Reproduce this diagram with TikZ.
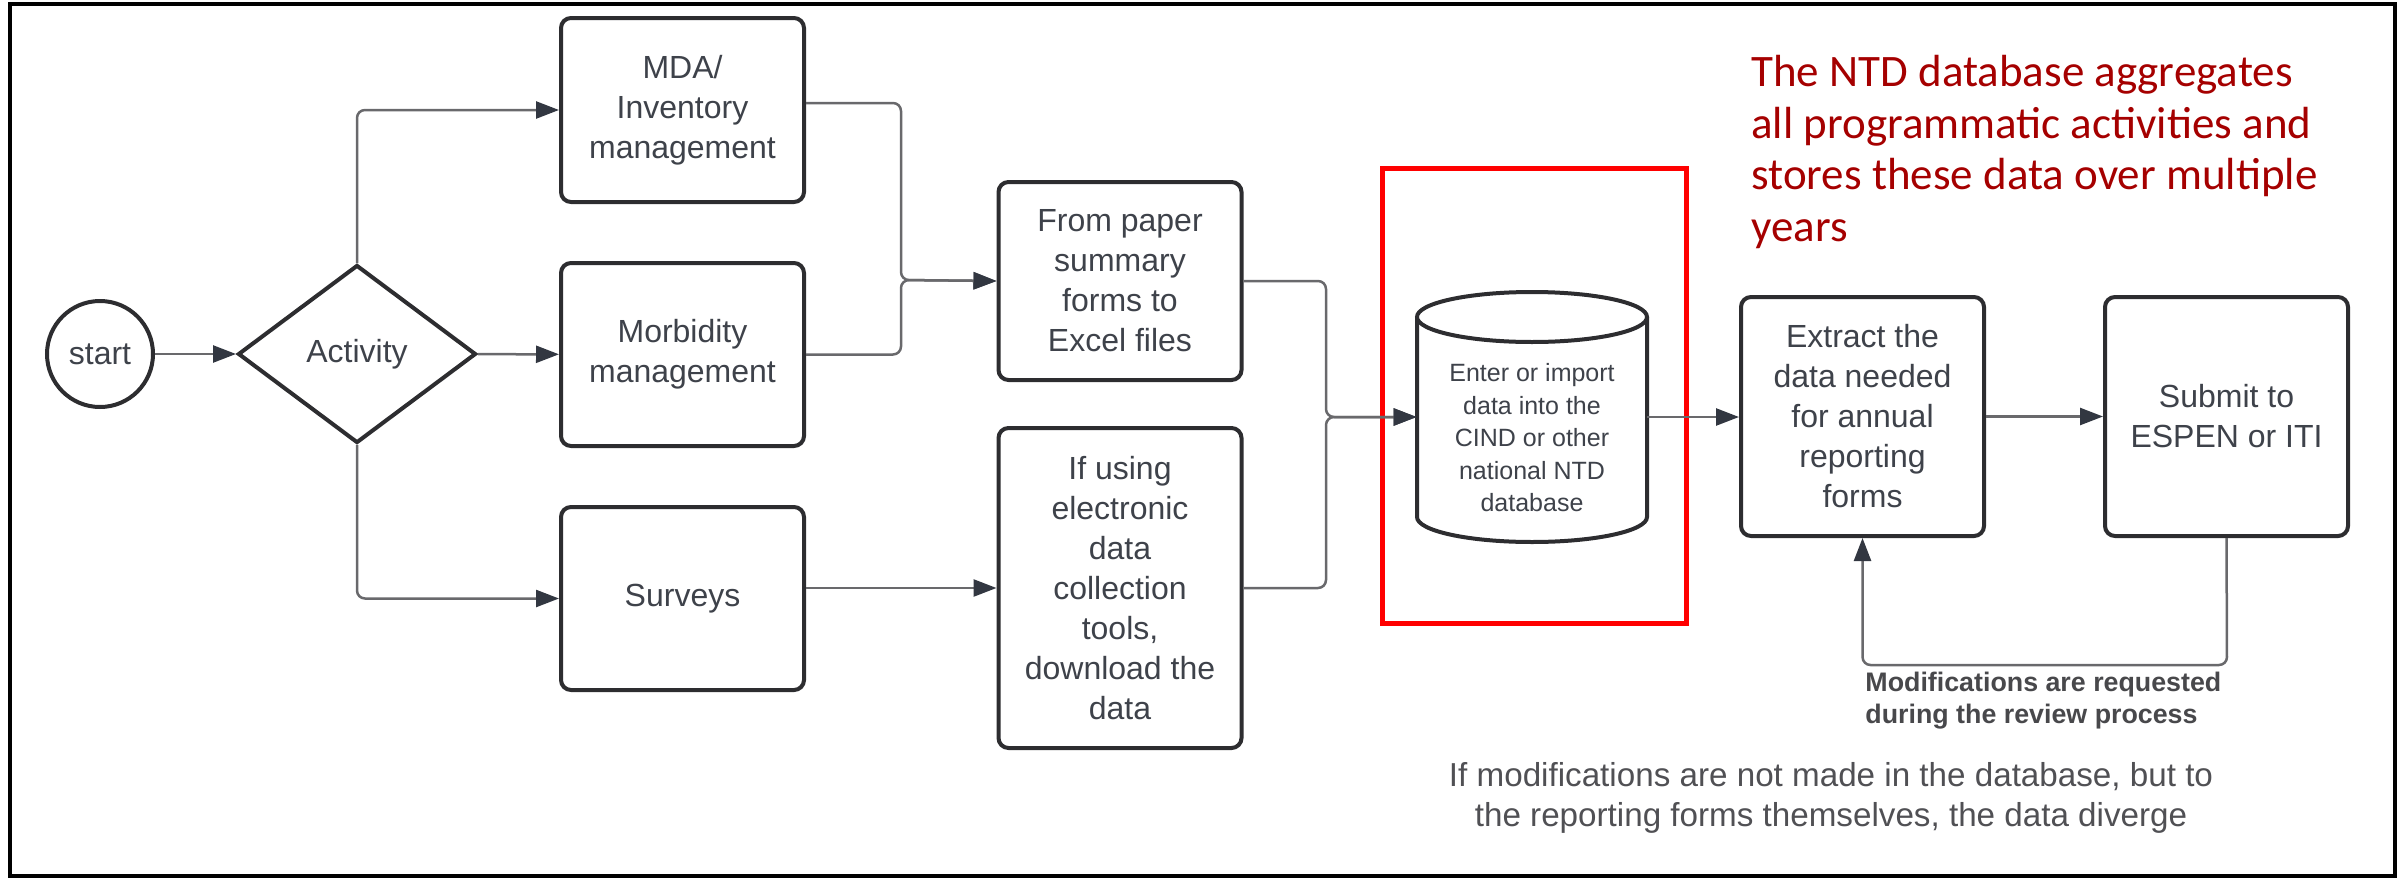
\documentclass[tikz,border=0pt]{standalone}
\usepackage{fontspec}
\setmainfont{Liberation Sans}
\newfontfamily\notefont{Carlito}
\usetikzlibrary{arrows.meta,shapes.geometric}

\definecolor{boxline}{RGB}{45,45,48}
\definecolor{textgray}{RGB}{62,66,74}
\definecolor{connline}{RGB}{105,105,108}
\definecolor{tipdark}{RGB}{50,55,65}
\definecolor{hired}{RGB}{255,0,0}
\definecolor{notered}{RGB}{165,0,0}
\definecolor{notegray}{RGB}{80,80,84}

\begin{document}
\begin{tikzpicture}[x=0.5pt,y=-0.5pt,
  basefont/.style={font=\fontsize{16}{20}\selectfont, text=textgray, align=center},
  stepbox/.style={basefont, rectangle, rounded corners=5pt, draw=boxline, line width=2pt,
    fill=white, minimum width=121.5pt, inner sep=0pt},
  startnode/.style={basefont, circle, draw=boxline, line width=2pt, minimum size=53pt, inner sep=0pt},
  decision/.style={basefont, diamond, draw=boxline, line width=2pt, minimum width=119pt,
    minimum height=89pt, inner sep=0pt},
  conn/.style={draw=connline, line width=1.25pt, rounded corners=4pt,
    -{Triangle[length=11.5pt,width=8.5pt,color=tipdark]}},
]
\useasboundingbox (0,0) rectangle (2397,878);

% outer frame
\draw[line width=2pt, black] (10,4) rectangle (2395,876);

% nodes
\node[startnode] (start) at (100,354) {start};
\node[decision] (act) at (357,354) {Activity};
\node[stepbox, minimum height=92pt] (mda) at (682.5,110) {MDA/\\Inventory\\management};
\node[stepbox, minimum height=91.5pt] (morb) at (682.5,354.5) {Morbidity\\management};
\node[stepbox, minimum height=91.5pt] (surv) at (682.5,598.5) {Surveys};
\node[stepbox, minimum height=99pt] (paper) at (1120,281) {From paper\\summary\\forms to\\Excel files};
\node[stepbox, minimum height=160pt] (elec) at (1120,588) {If using\\electronic\\data\\collection\\tools,\\download the\\data};
\node[stepbox, minimum height=119.5pt] (extract) at (1862.5,416.5) {Extract the\\data needed\\for annual\\reporting\\forms};
\node[stepbox, minimum height=119.5pt] (submit) at (2226.5,416.5) {Submit to\\ESPEN or ITI};

% database cylinder
\draw[boxline, line width=2pt, fill=white]
  (1417,317) -- (1417,517) arc[start angle=180, end angle=360, x radius=57.5pt, y radius=12.5pt]
  -- (1647,317);
\draw[boxline, line width=2pt, fill=white] (1532,317) ellipse [x radius=57.5pt, y radius=12.5pt];
\node[rectangle, minimum width=115pt, minimum height=125pt, inner sep=0pt] (db) at (1532,417) {};
\node[inner sep=0pt, font=\fontsize{12.5}{16.25}\selectfont, text=textgray, align=center]
  (dbtext) at (1532,438) {Enter or import\\data into the\\CIND or other\\national NTD\\database};

% highlight around the database
\draw[hired, line width=2.5pt] (1382,168) rectangle (1686,623);

% connectors
\coordinate (j1) at (901,280);
\coordinate (j2) at (1326,417);
\coordinate (fb) at (2227,665);

\draw[conn] (start) -- (act);
\draw[conn] (act.north) |- (mda.west);
\draw[conn] (act) -- (morb);
\draw[conn] (act.south) |- (surv.west);
\draw[conn] ([yshift=3.5pt]mda.east) -| (j1) -- (paper.west);
\draw[conn] (morb.east) -| (j1) -- (paper.west);
\draw[conn] (surv.east |- elec.west) -- (elec.west);
\draw[conn] (paper.east) -| (j2) -- (db.west);
\draw[conn] (elec.east) -| (j2) -- (db.west);
\draw[conn] (db.east) -- (db.east -| extract.west);
\draw[conn] (extract) -- (submit);
\draw[conn] (submit.south) -- (fb) -| (extract.south);

% annotations
\node[anchor=west, inner sep=0pt, align=left, text=notegray!90!black,
  font=\bfseries\fontsize{13.4}{16}\selectfont] (modtxt) at (1865,701)
  {Modifications are requested\\during the review process};
\node[inner sep=0pt, align=center, text=notegray,
  font=\fontsize{16.6}{20}\selectfont] (diverge) at (1831,798)
  {If modifications are not made in the database, but to\\the reporting forms themselves, the data diverge};
\node[anchor=north west, inner sep=0pt, align=left, text=notered,
  font=\notefont\fontsize{22.5}{25.75}\selectfont] (dbnote) at (1751,55)
  {The NTD database aggregates\\all programmatic activities and\\stores these data over multiple\\years};
\end{tikzpicture}
\end{document}
